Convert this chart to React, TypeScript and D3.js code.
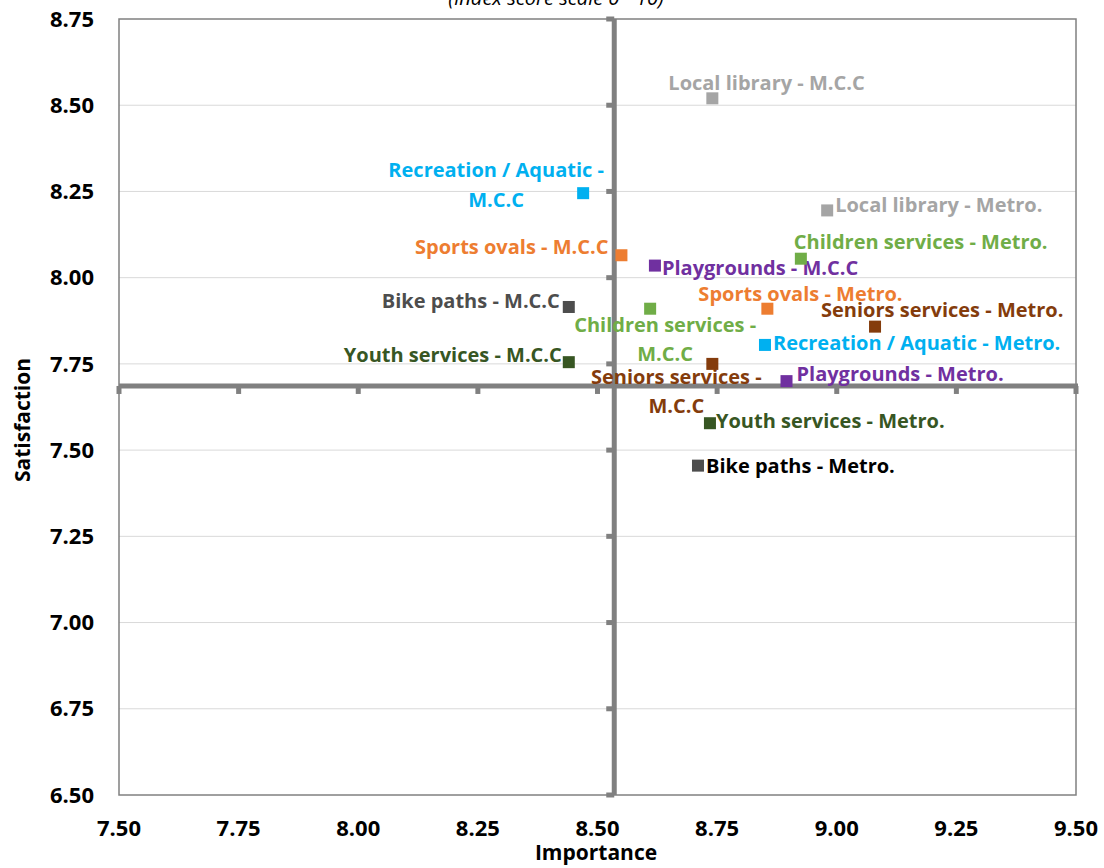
import * as d3 from 'd3';
import React, { useEffect, useRef } from 'react';

// services (same colour for both series)
const services = [
  'Local library',
  'Recreation / Aquatic',
  'Sports ovals',
  'Playgrounds',
  'Bike paths',
  'Children services',
  'Youth services',
  'Seniors services',
];
const serviceColors = ['#A5A5A5', '#00B0F0', '#ED7D31', '#7030A0', '#4D4D4D', '#70AD47', '#375623', '#843C0C'];

// M.C.C series
const mccImportance = [8.74, 8.47, 8.55, 8.62, 8.44, 8.61, 8.44, 8.74];
const mccSatisfaction = [8.52, 8.245, 8.065, 8.035, 7.915, 7.91, 7.755, 7.75];

// Metro. series
const metroImportance = [8.98, 8.85, 8.855, 8.895, 8.71, 8.925, 8.735, 9.08];
const metroSatisfaction = [8.195, 7.805, 7.91, 7.70, 7.455, 8.055, 7.578, 7.858];

// quadrant crossing (averages)
const crossImportance = 8.535;
const crossSatisfaction = 7.686;

const xTicks = [7.5, 7.75, 8.0, 8.25, 8.5, 8.75, 9.0, 9.25, 9.5];
const yTicks = [6.5, 6.75, 7.0, 7.25, 7.5, 7.75, 8.0, 8.25, 8.5, 8.75];

// label placement: anchor, dx, dy per line, line texts
type LabelPos = { anchor: string; dx: number; dy: number[]; lines: string[]; color?: string };
const mccLabels: LabelPos[] = [
  { anchor: 'start', dx: -44, dy: [-8], lines: ['Local library - M.C.C'] },
  { anchor: 'middle', dx: -87, dy: [-16, 14], lines: ['Recreation / Aquatic -', 'M.C.C'] },
  { anchor: 'end', dx: -13, dy: [-1], lines: ['Sports ovals - M.C.C'] },
  { anchor: 'start', dx: 7, dy: [9], lines: ['Playgrounds - M.C.C'] },
  { anchor: 'end', dx: -9, dy: [1], lines: ['Bike paths - M.C.C'] },
  { anchor: 'middle', dx: 15, dy: [23, 52], lines: ['Children services -', 'M.C.C'] },
  { anchor: 'end', dx: -7, dy: [0], lines: ['Youth services - M.C.C'] },
  { anchor: 'middle', dx: -36, dy: [20, 49], lines: ['Seniors services -', 'M.C.C'] },
];
const metroLabels: LabelPos[] = [
  { anchor: 'start', dx: 8, dy: [2], lines: ['Local library - Metro.'] },
  { anchor: 'start', dx: 8, dy: [5], lines: ['Recreation / Aquatic - Metro.'] },
  { anchor: 'start', dx: -69, dy: [-8], lines: ['Sports ovals - Metro.'] },
  { anchor: 'start', dx: 10, dy: [0], lines: ['Playgrounds - Metro.'] },
  { anchor: 'start', dx: 8, dy: [7], lines: ['Bike paths - Metro.'], color: '#000000' },
  { anchor: 'start', dx: -7, dy: [-10], lines: ['Children services - Metro.'] },
  { anchor: 'start', dx: 6, dy: [5], lines: ['Youth services - Metro.'] },
  { anchor: 'start', dx: -54, dy: [-10], lines: ['Seniors services - Metro.'] },
];

const FONT = '"Open Sans", Lato, sans-serif';

export default function App() {
  const ref = useRef<SVGSVGElement>(null);

  useEffect(() => {
    if (!ref.current) return;
    const width = 1104;
    const height = 868;
    const left = 119, right = 1076, top = 19, bottom = 795;

    const svg = d3.select(ref.current);
    svg.selectAll('*').remove();
    svg.attr('width', width).attr('height', height);

    const x = d3.scaleLinear().domain([7.5, 9.5]).range([left, right]);
    const y = d3.scaleLinear().domain([6.5, 8.75]).range([bottom, top]);

    svg.append('rect').attr('width', width).attr('height', height).attr('fill', '#fff');

    // subtitle, mostly above the visible area like the original crop
    svg.append('text')
      .attr('x', 556).attr('y', 5)
      .attr('text-anchor', 'middle')
      .style('font-family', FONT).style('font-style', 'italic').style('font-size', '20px')
      .attr('fill', '#000')
      .text('(Index score scale 0 - 10)');

    // gridlines
    svg.selectAll('.grid')
      .data(yTicks.slice(1, -1))
      .enter()
      .append('line')
      .attr('x1', left).attr('x2', right)
      .attr('y1', d => y(d)).attr('y2', d => y(d))
      .attr('stroke', '#D9D9D9').attr('stroke-width', 1);

    // plot frame
    svg.append('rect')
      .attr('x', left).attr('y', top)
      .attr('width', right - left).attr('height', bottom - top)
      .attr('fill', 'none').attr('stroke', '#808080').attr('stroke-width', 1.5);

    // quadrant axes
    const cx = x(crossImportance);
    const cy = y(crossSatisfaction);
    svg.selectAll('.xtick')
      .data(xTicks)
      .enter()
      .append('line')
      .attr('x1', d => x(d)).attr('x2', d => x(d))
      .attr('y1', cy).attr('y2', cy + 8)
      .attr('stroke', '#808080').attr('stroke-width', 5);
    svg.selectAll('.ytick')
      .data(yTicks)
      .enter()
      .append('line')
      .attr('x1', cx - 8).attr('x2', cx)
      .attr('y1', d => y(d)).attr('y2', d => y(d))
      .attr('stroke', '#808080').attr('stroke-width', 5);
    svg.append('line')
      .attr('x1', left).attr('x2', right + 2).attr('y1', cy).attr('y2', cy)
      .attr('stroke', '#808080').attr('stroke-width', 5);
    svg.append('line')
      .attr('x1', cx).attr('x2', cx).attr('y1', top).attr('y2', bottom)
      .attr('stroke', '#808080').attr('stroke-width', 5);

    // tick labels
    svg.selectAll('.xlab')
      .data(xTicks)
      .enter()
      .append('text')
      .attr('x', d => x(d)).attr('y', 828)
      .attr('text-anchor', 'middle').attr('dy', '0.35em')
      .style('font-family', FONT).style('font-weight', 700).style('font-size', '22px')
      .text(d => d.toFixed(2));
    svg.selectAll('.ylab')
      .data(yTicks)
      .enter()
      .append('text')
      .attr('x', 94).attr('y', d => y(d))
      .attr('text-anchor', 'end').attr('dy', '0.35em')
      .style('font-family', FONT).style('font-weight', 700).style('font-size', '22px')
      .text(d => d.toFixed(2));

    // axis titles
    svg.append('text')
      .attr('x', 596).attr('y', 860)
      .attr('text-anchor', 'middle')
      .style('font-family', FONT).style('font-weight', 700).style('font-size', '21px')
      .text('Importance');
    svg.append('text')
      .attr('transform', `translate(30, 420) rotate(-90)`)
      .attr('text-anchor', 'middle')
      .style('font-family', FONT).style('font-weight', 700).style('font-size', '21px')
      .text('Satisfaction');

    const series = [
      { xs: mccImportance, ys: mccSatisfaction, labels: mccLabels },
      { xs: metroImportance, ys: metroSatisfaction, labels: metroLabels },
    ];

    series.forEach(s => {
      const g = svg.append('g');
      const pts = services.map((name, i) => ({ name, i, px: x(s.xs[i]), py: y(s.ys[i]) }));
      g.selectAll('rect')
        .data(pts)
        .enter()
        .append('rect')
        .attr('x', d => d.px - 6).attr('y', d => d.py - 6)
        .attr('width', 12).attr('height', 12)
        .attr('fill', d => serviceColors[d.i]);

      pts.forEach(d => {
        const lab = s.labels[d.i];
        const t = g.append('text')
          .attr('text-anchor', lab.anchor)
          .style('font-family', FONT).style('font-weight', 700).style('font-size', '20px')
          .attr('fill', lab.color || serviceColors[d.i]);
        lab.lines.forEach((line, k) => {
          t.append('tspan')
            .attr('x', d.px + lab.dx)
            .attr('y', d.py + lab.dy[k])
            .text(line);
        });
      });
    });
  }, []);

  return <svg ref={ref} style={{ position: 'absolute', left: 0, top: 0 }} />;
}
